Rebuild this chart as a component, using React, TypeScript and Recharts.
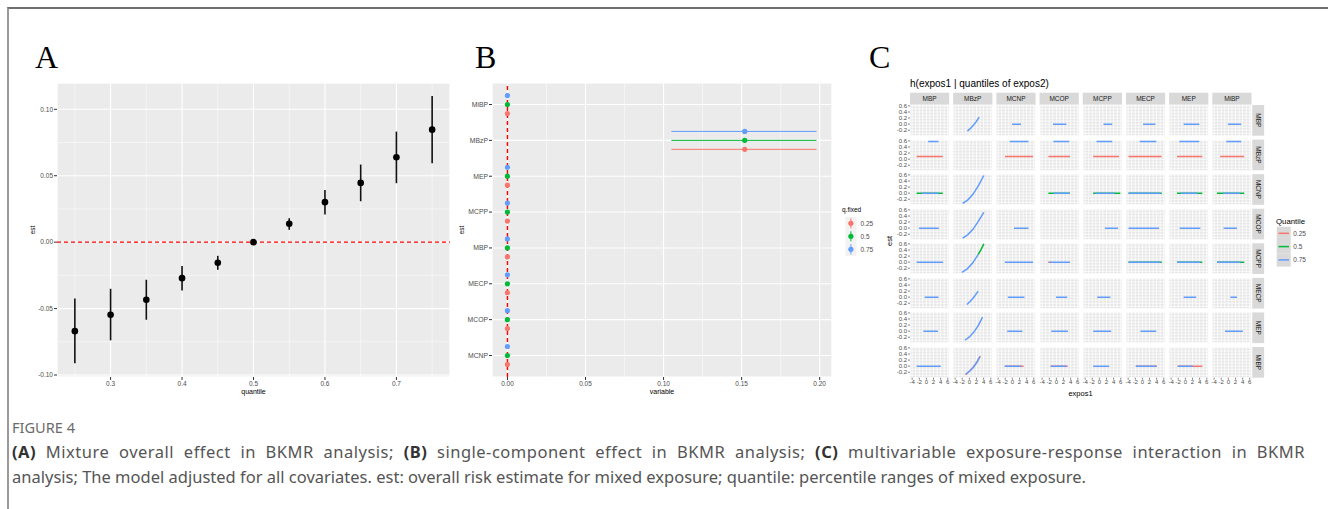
import React from 'react'
import {
  ComposedChart,
  LineChart,
  Line,
  Scatter,
  ErrorBar,
  XAxis,
  YAxis,
  CartesianGrid,
  ReferenceLine,
} from 'recharts'

// ---- panel A: overall mixture effect ----
const A_QUANTILE = [0.25, 0.3, 0.35, 0.4, 0.45, 0.5, 0.55, 0.6, 0.65, 0.7, 0.75]
const A_EST = [-0.067, -0.0546, -0.0434, -0.0271, -0.0155, 0, 0.0138, 0.0301, 0.0446, 0.0639, 0.0847]
const A_LOWER = [-0.0912, -0.0739, -0.0584, -0.0363, -0.0208, 0, 0.0093, 0.0208, 0.0308, 0.0444, 0.0594]
const A_UPPER = [-0.0424, -0.0351, -0.0283, -0.018, -0.0103, 0, 0.018, 0.0393, 0.0584, 0.0832, 0.11]
const A_X_MAJOR = [0.3, 0.4, 0.5, 0.6, 0.7]
const A_X_MINOR = [0.25, 0.35, 0.45, 0.55, 0.65, 0.75]
const A_Y_MAJOR = [-0.1, -0.05, 0, 0.05, 0.1]
const A_Y_MINOR = [-0.075, -0.025, 0.025, 0.075]

// ---- panel B: single-component effect ----
const B_VARIABLES = ['MiBP', 'MBzP', 'MEP', 'MCPP', 'MBP', 'MECP', 'MCOP', 'MCNP']
const Q_FIXED = ['0.25', '0.5', '0.75']
const B_EST_Q25 = [0, 0.152, 0, 0, 0, 0, 0, 0]
const B_EST_Q50 = [0, 0.152, 0, 0, 0, 0, 0, 0]
const B_EST_Q75 = [0, 0.152, 0, 0, 0, 0, 0, 0]
const B_LOWER = [0, 0.105, 0, 0, 0, 0, 0, 0]
const B_UPPER = [0, 0.198, 0, 0, 0, 0, 0, 0]
const B_X_MAJOR = [0, 0.05, 0.1, 0.15, 0.2]
const B_X_MINOR = [0.025, 0.075, 0.125, 0.175]

// ---- panel C: h(expos1 | quantiles of expos2) ----
const C_VARIABLES = ['MBP', 'MBzP', 'MCNP', 'MCOP', 'MCPP', 'MECP', 'MEP', 'MiBP']
const C_QUANTILES = ['0.25', '0.5', '0.75']
// flat lines: [row, col, quantile index, x from, x to, h]
const C_FLAT: [number, number, number, number, number, number][] = [
  [0, 2, 2, -0.1, 2.4, 0], [0, 3, 2, -0.95, 2.8, 0], [0, 4, 2, 1.15, 3.6, 0],
  [0, 5, 2, 0.2, 3.65, 0], [0, 6, 2, -0.5, 3.9, 0], [0, 7, 2, -0.15, 3.6, 0],

  [1, 0, 0, -2.75, 4.6, 0.09], [1, 0, 2, 0.5, 3.4, 0.58],
  [1, 2, 0, -2.1, 5.8, 0.09], [1, 2, 2, -0.75, 4.5, 0.58],
  [1, 3, 0, -2.25, 3.8, 0.09], [1, 3, 2, -0.85, 3.6, 0.58],
  [1, 4, 0, -1.75, 5.5, 0.09], [1, 4, 2, -0.8, 3.6, 0.58],
  [1, 5, 0, -3.9, 5.4, 0.09], [1, 5, 2, -0.75, 3.9, 0.58],
  [1, 6, 0, -2.35, 4.75, 0.09], [1, 6, 2, -1.7, 3.9, 0.58],
  [1, 7, 0, -2.3, 4.45, 0.09], [1, 7, 2, -0.6, 3.6, 0.58],

  [2, 0, 1, -2.75, 4.6, 0], [2, 0, 2, -1.35, 3.4, 0],
  [2, 3, 1, -2.25, 3.8, 0], [2, 3, 2, -0.85, 3.8, 0],
  [2, 4, 1, -1.75, 5.9, 0], [2, 4, 2, -1.1, 4.25, 0],
  [2, 5, 1, -3.9, 5.45, 0], [2, 5, 2, -3.9, 5.05, 0],
  [2, 6, 1, -2.35, 4.75, 0], [2, 6, 2, -1.25, 3.45, 0],
  [2, 7, 1, -3.2, 4.45, 0], [2, 7, 2, -1.5, 3.3, 0],

  [3, 0, 2, -2.1, 3.5, 0], [3, 2, 2, 0.45, 4.5, 0], [3, 4, 2, 1.55, 5.25, 0],
  [3, 5, 2, -3.9, 4.7, 0], [3, 6, 2, -1.6, 4.2, 0], [3, 7, 2, -1.35, 2.4, 0],

  [4, 0, 2, -2.75, 4.7, 0], [4, 2, 2, -2.15, 5.8, 0],
  [4, 3, 0, -2.3, -1.6, 0], [4, 3, 2, -1.9, 3.8, 0],
  [4, 5, 1, -3.9, 5.45, 0], [4, 5, 2, -3.9, 5.05, 0],
  [4, 6, 1, -2.35, 4.75, 0], [4, 6, 2, -2.35, 4.2, 0],
  [4, 7, 1, -3.2, 4.45, 0], [4, 7, 2, -3.2, 3.4, 0],

  [5, 0, 2, -0.5, 3.4, 0], [5, 2, 2, -1.3, 3.4, 0], [5, 3, 2, -0.1, 3.05, 0],
  [5, 4, 2, -0.6, 3.1, 0], [5, 6, 2, -0.5, 3.05, 0], [5, 7, 2, 0.55, 2.4, 0],

  [6, 0, 2, -0.85, 3.25, 0], [6, 2, 2, -1.45, 2.8, 0], [6, 3, 2, -1.45, 3.25, 0],
  [6, 4, 2, -1.75, 3.3, 0], [6, 5, 2, -0.55, 3.9, 0], [6, 7, 2, -0.95, 4.05, 0],

  [7, 0, 2, -2.75, 4.05, 0],
  [7, 2, 0, -2.15, 3.15, 0], [7, 2, 2, -2.15, 2.5, 0],
  [7, 3, 0, -1.6, 3.2, 0], [7, 3, 2, -1.6, 2.85, 0],
  [7, 4, 2, -1.75, 2.75, 0],
  [7, 5, 0, -1.85, 4.1, 0], [7, 5, 2, -1.85, 3.9, 0],
  [7, 6, 0, -2.15, 4.75, 0], [7, 6, 2, -2.15, 2.1, 0],
]
// curved lines (MBzP column): [row, col, quantile index, [x, h] points]
const C_CURVES: [number, number, number, [number, number][]][] = [
  [0, 1, 2, [[-0.55, -0.23], [0.3, -0.14], [1.1, -0.04], [1.9, 0.08], [2.75, 0.23]]],
  [2, 1, 2, [[-1.9, -0.34], [-0.5, -0.23], [1.0, -0.04], [2.5, 0.24], [4.05, 0.58]]],
  [3, 1, 2, [[-1.9, -0.33], [-0.5, -0.22], [1.0, -0.04], [2.5, 0.22], [4.05, 0.52]]],
  [4, 1, 2, [[-2.1, -0.34], [-0.6, -0.22], [0.9, -0.03], [2.45, 0.25]]],
  [4, 1, 1, [[2.45, 0.25], [3.3, 0.42], [4.05, 0.6]]],
  [5, 1, 2, [[-0.7, -0.24], [0.1, -0.15], [0.9, -0.05], [1.7, 0.07], [2.45, 0.2]]],
  [6, 1, 2, [[-1.25, -0.3], [0, -0.19], [1.2, -0.04], [2.5, 0.18], [3.7, 0.46]]],
  [7, 1, 0, [[-1.1, -0.28], [0, -0.17], [1.0, -0.05], [2.0, 0.11], [3.05, 0.33]]],
  [7, 1, 2, [[-0.95, -0.26], [0, -0.17], [1.0, -0.05], [2.0, 0.11], [2.95, 0.31]]],
]
const C_X_GRID = [-4, -3, -2, -1, 0, 1, 2, 3, 4, 5, 6]
const C_X_MAJOR = [-4, -2, 0, 2, 4, 6]
const C_Y_GRID = [-0.3, -0.2, -0.1, 0, 0.1, 0.2, 0.3, 0.4, 0.5, 0.6]
const C_Y_MAJOR = [-0.2, 0, 0.2, 0.4, 0.6]

const Q_COLORS = ['#F8766D', '#00BA38', '#619CFF']
const PANEL_BG = '#EBEBEB'
const GG = '"Liberation Sans", Arial, sans-serif'
const TICK_TEXT = { fontSize: 6.5, fill: '#4D4D4D', fontFamily: GG }

const A_DATA = A_QUANTILE.map((q, i) => ({
  q,
  est: A_EST[i],
  err: [A_EST[i] - A_LOWER[i], A_UPPER[i] - A_EST[i]],
}))

const B_DODGE = 0.25
const B_SERIES = [B_EST_Q25, B_EST_Q50, B_EST_Q75].map((est, k) =>
  est.map((v, i) => ({
    v,
    pos: i + (1 - k) * B_DODGE,
    err: B_UPPER[i] > B_LOWER[i] ? [v - B_LOWER[i], B_UPPER[i] - v] : undefined,
  })),
)

// facet geometry for panel C
const C_LEFT = 910
const C_TOP = 105
const C_STEP_X = 43.19
const C_STEP_Y = 34.57
const C_W = 39.2
const C_H = 30.7
const C_X_DOMAIN = [-4.6, 6.4]
const C_Y_DOMAIN = [-0.38, 0.63]
// chart-level rows so the facet x axes always have a domain to work with
const C_FRAME = C_X_GRID.map((x) => ({ x }))

function Facet({ row, col }: { row: number; col: number }) {
  const lines = [
    ...C_FLAT.filter((f) => f[0] === row && f[1] === col).map((f) => ({
      q: f[2],
      pts: [{ x: f[3], h: f[5] }, { x: f[4], h: f[5] }],
    })),
    ...C_CURVES.filter((c) => c[0] === row && c[1] === col).map((c) => ({
      q: c[2],
      pts: c[3].map(([x, h]) => ({ x, h })),
    })),
  ].sort((a, b) => a.q - b.q)

  const isLeft = col === 0
  const isBottom = row === 7
  const yw = isLeft ? 14 : 0
  const xh = isBottom ? 10 : 0

  return (
    <div style={{ position: 'absolute', left: C_LEFT + col * C_STEP_X - yw, top: C_TOP + row * C_STEP_Y }}>
      <LineChart data={C_FRAME} width={C_W + yw} height={C_H + xh} margin={{ top: 0, right: 0, bottom: 0, left: 0 }}>
        {isBottom && (
          <XAxis
            xAxisId="lab"
            type="number"
            dataKey="x"
            domain={C_X_DOMAIN}
            ticks={C_X_MAJOR}
            allowDataOverflow
            interval={0}
            height={10}
            tickSize={2}
            tickMargin={0.5}
            axisLine={false}
            tickLine={{ stroke: '#333', strokeWidth: 0.6 }}
            tick={{ fontSize: 6, fill: '#4D4D4D', fontFamily: GG }}
          />
        )}
        {isLeft && (
          <YAxis
            yAxisId="lab"
            type="number"
            domain={C_Y_DOMAIN}
            ticks={C_Y_MAJOR}
            allowDataOverflow
            interval={0}
            width={14}
            tickSize={2}
            tickMargin={1}
            axisLine={false}
            tickLine={{ stroke: '#333', strokeWidth: 0.6 }}
            tick={{ fontSize: 6, fill: '#4D4D4D', fontFamily: GG }}
            tickFormatter={(v: number) => v.toFixed(1)}
          />
        )}
        <XAxis type="number" dataKey="x" domain={C_X_DOMAIN} ticks={C_X_GRID} interval={0} hide height={0} allowDataOverflow />
        <YAxis type="number" domain={C_Y_DOMAIN} ticks={C_Y_GRID} interval={0} hide width={0} allowDataOverflow />
        <CartesianGrid stroke="#fff" strokeWidth={0.8} fill="#E6E6E6" fillOpacity={1} />
        {lines.map((l, i) => (
          <Line
            key={i}
            data={l.pts}
            dataKey="h"
            stroke={Q_COLORS[l.q]}
            strokeWidth={1.5}
            dot={false}
            isAnimationActive={false}
          />
        ))}
      </LineChart>
    </div>
  )
}

function PanelA() {
  return (
    <div style={{ position: 'absolute', left: 20, top: 75 }}>
      <ComposedChart width={440} height={330} data={A_DATA} margin={{ top: 8, right: 10, bottom: 0, left: 0 }}>
        <XAxis
          type="number"
          dataKey="q"
          domain={[0.225, 0.775]}
          ticks={A_X_MAJOR}
          allowDataOverflow
          interval={0}
          height={28}
          tickSize={3}
          tickMargin={1}
          axisLine={false}
          tickLine={{ stroke: '#333' }}
          tick={TICK_TEXT}
        />
        <YAxis
          type="number"
          dataKey="est"
          domain={[-0.1015, 0.1198]}
          ticks={A_Y_MAJOR}
          allowDataOverflow
          interval={0}
          width={37}
          tickSize={3}
          tickMargin={1}
          axisLine={false}
          tickLine={{ stroke: '#333' }}
          tick={TICK_TEXT}
          tickFormatter={(v: number) => v.toFixed(2)}
        />
        <XAxis xAxisId="minor" type="number" dataKey="q" domain={[0.225, 0.775]} ticks={A_X_MINOR} interval={0} hide height={0} allowDataOverflow />
        <YAxis yAxisId="minor" type="number" domain={[-0.1015, 0.1198]} ticks={A_Y_MINOR} interval={0} hide width={0} allowDataOverflow />
        <CartesianGrid xAxisId="minor" yAxisId="minor" stroke="#fff" strokeWidth={0.5} fill={PANEL_BG} fillOpacity={1} />
        <CartesianGrid stroke="#fff" strokeWidth={1.1} />
        <ReferenceLine y={0} stroke="#FF0000" strokeWidth={1.2} strokeDasharray="4 3" />
        <Scatter
          data={A_DATA}
          dataKey="est"
          isAnimationActive={false}
          shape={(p: any) => <circle cx={p.cx} cy={p.cy} r={3.3} fill="#000" />}
        >
          <ErrorBar dataKey="err" direction="y" width={0} stroke="#111" strokeWidth={1.6} />
        </Scatter>
      </ComposedChart>
    </div>
  )
}

function PanelB() {
  return (
    <div style={{ position: 'absolute', left: 450, top: 75 }}>
      <ComposedChart data={B_SERIES.flat()} width={392} height={330} margin={{ top: 8, right: 10, bottom: 0, left: 0 }}>
        <XAxis
          type="number"
          dataKey="v"
          domain={[-0.0099, 0.2079]}
          ticks={B_X_MAJOR}
          allowDataOverflow
          interval={0}
          height={28}
          tickSize={3}
          tickMargin={1}
          axisLine={false}
          tickLine={{ stroke: '#333' }}
          tick={TICK_TEXT}
          tickFormatter={(v: number) => v.toFixed(2)}
        />
        <YAxis
          type="number"
          dataKey="pos"
          domain={[-0.6, 7.6]}
          reversed
          ticks={B_VARIABLES.map((_, i) => i)}
          allowDataOverflow
          interval={0}
          width={42}
          tickSize={3}
          tickMargin={1}
          axisLine={false}
          tickLine={{ stroke: '#333' }}
          tick={{ ...TICK_TEXT, fontSize: 6.8 }}
          tickFormatter={(v: number) => B_VARIABLES[v]}
        />
        <XAxis xAxisId="minor" type="number" dataKey="v" domain={[-0.0099, 0.2079]} ticks={B_X_MINOR} interval={0} hide height={0} allowDataOverflow />
        <CartesianGrid xAxisId="minor" horizontal={false} stroke="#fff" strokeWidth={0.5} fill={PANEL_BG} fillOpacity={1} />
        <CartesianGrid stroke="#fff" strokeWidth={1.1} />
        {B_SERIES.map((d, k) => (
          <Scatter
            key={k}
            data={d}
            dataKey="v"
            isAnimationActive={false}
            shape={(p: any) => <circle cx={p.cx} cy={p.cy} r={2.6} fill={Q_COLORS[k]} />}
          >
            <ErrorBar dataKey="err" direction="x" width={0} stroke={Q_COLORS[k]} strokeWidth={1} />
          </Scatter>
        ))}
        <ReferenceLine x={0} stroke="#FF0000" strokeWidth={1.4} strokeDasharray="4 3" />
      </ComposedChart>
    </div>
  )
}

function Overlay() {
  const title = { fontFamily: GG, fill: '#000' }
  return (
    <svg width={1328} height={509} style={{ position: 'absolute', left: 0, top: 0 }}>
      {/* panel letters */}
      <g fontFamily='"Liberation Serif", "Times New Roman", serif' fontSize={32} fill="#000">
        <text x={35} y={68}>A</text>
        <text x={475} y={68}>B</text>
        <text x={869} y={68}>C</text>
      </g>

      {/* axis titles */}
      <text {...title} fontSize={6.5} textAnchor="middle" transform="translate(35,230) rotate(-90)">est</text>
      <text {...title} fontSize={7} textAnchor="middle" x={253.5} y={394}>quantile</text>
      <text {...title} fontSize={6.5} textAnchor="middle" transform="translate(464,230) rotate(-90)">est</text>
      <text {...title} fontSize={7} textAnchor="middle" x={662} y={394}>variable</text>
      <text {...title} fontSize={7.5} textAnchor="middle" transform="translate(892,241) rotate(-90)">est</text>
      <text {...title} fontSize={7.5} textAnchor="middle" x={1080.5} y={396}>expos1</text>
      <text {...title} fontSize={10} x={910} y={87}>h(expos1 | quantiles of expos2)</text>

      {/* B legend */}
      <text {...title} fontSize={6.5} x={842} y={212}>q.fixed</text>
      {Q_FIXED.map((lab, k) => {
        const cy = 223.3 + k * 13
        return (
          <g key={lab}>
            <rect x={845.5} y={cy - 6.5} width={11} height={13} fill="#F2F2F2" />
            <line x1={850.9} x2={850.9} y1={cy - 5} y2={cy + 5} stroke={Q_COLORS[k]} strokeWidth={1} />
            <circle cx={850.9} cy={cy} r={2.6} fill={Q_COLORS[k]} />
            <text x={860.5} y={cy + 2.2} fontSize={6.5} fill="#4D4D4D" fontFamily={GG}>{lab}</text>
          </g>
        )
      })}

      {/* C strips */}
      {C_VARIABLES.map((v, c) => (
        <g key={'t' + v}>
          <rect x={C_LEFT + c * C_STEP_X} y={92.7} width={C_W} height={12.3} fill="#D9D9D9" />
          <text x={C_LEFT + c * C_STEP_X + C_W / 2} y={101.2} textAnchor="middle" fontSize={6.5} fill="#1A1A1A" fontFamily={GG}>{v}</text>
        </g>
      ))}
      {C_VARIABLES.map((v, r) => {
        const cx = 1258.2
        const cy = C_TOP + r * C_STEP_Y + C_H / 2
        return (
          <g key={'r' + v}>
            <rect x={1252.3} y={C_TOP + r * C_STEP_Y} width={11.8} height={C_H} fill="#D9D9D9" />
            <text transform={`translate(${cx},${cy}) rotate(90)`} y={2.2} textAnchor="middle" fontSize={6.5} fill="#1A1A1A" fontFamily={GG}>{v}</text>
          </g>
        )
      })}

      {/* C legend */}
      <text {...title} fontSize={7.8} x={1276} y={223.5}>Quantile</text>
      {C_QUANTILES.map((lab, k) => {
        const cy = 233.3 + k * 13.3
        return (
          <g key={lab}>
            <rect x={1276.7} y={cy - 6.6} width={14} height={13.3} fill="#D9D9D9" />
            <line x1={1278.5} x2={1289} y1={cy} y2={cy} stroke={Q_COLORS[k]} strokeWidth={1.5} />
            <text x={1293.3} y={cy + 2.3} fontSize={6.5} fill="#4D4D4D" fontFamily={GG}>{lab}</text>
          </g>
        )
      })}

      <text x={12} y={433} fontSize={14} fill="#6b6b6b" fontFamily='"Noto Sans", sans-serif' textLength={63} lengthAdjust="spacingAndGlyphs">FIGURE 4</text>
    </svg>
  )
}

function Caption() {
  const base: React.CSSProperties = {
    position: 'absolute',
    left: 12,
    width: 1293,
    fontFamily: '"Noto Sans", sans-serif',
    fontSize: 16.5,
    lineHeight: '24px',
    color: '#555',
  }
  const b: React.CSSProperties = { fontWeight: 700, color: '#333' }
  return (
    <>
      <div style={{ ...base, top: 440, letterSpacing: 0.5, textAlign: 'justify', textAlignLast: 'justify' }}>
        <span style={b}>(A)</span> Mixture overall effect in BKMR analysis; <span style={b}>(B)</span> single-component effect in BKMR analysis; <span style={b}>(C)</span> multivariable exposure-response interaction in BKMR
      </div>
      <div style={{ ...base, top: 465 }}>
        analysis; The model adjusted for all covariates. est: overall risk estimate for mixed exposure; quantile: percentile ranges of mixed exposure.
      </div>
    </>
  )
}

export default function App() {
  return (
    <div style={{ position: 'absolute', left: 0, top: 0, width: 1328, height: 509, background: '#fff', overflow: 'hidden' }}>
      <style>{'.recharts-surface{overflow:visible}.recharts-wrapper{overflow:visible}'}</style>
      <div
        style={{
          position: 'absolute',
          left: 7,
          top: 7,
          width: 1321,
          height: 502,
          borderTop: '2px solid #6f6f6f',
          borderLeft: '2px solid #9a9a9a',
          boxSizing: 'border-box',
        }}
      />
      <Overlay />
      <Caption />
      <PanelA />
      <PanelB />
      {C_VARIABLES.map((_, r) =>
        C_VARIABLES.map((__, c) => <Facet key={r + '-' + c} row={r} col={c} />),
      )}
    </div>
  )
}
